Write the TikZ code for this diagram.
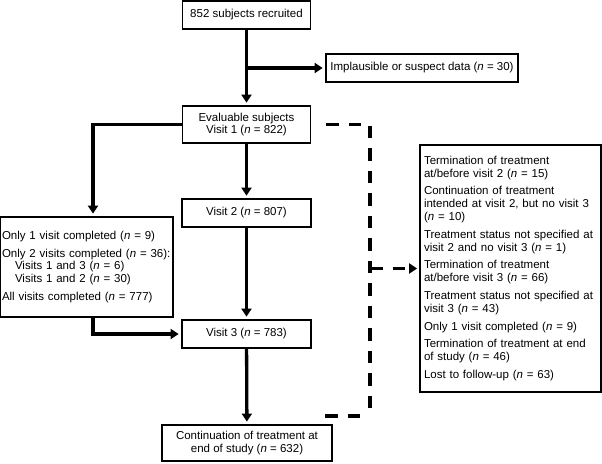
\documentclass[tikz,border=0pt]{standalone}
\usepackage{fontspec}
\setmainfont{Liberation Sans}
\usetikzlibrary{arrows.meta}

\begin{document}
\begin{tikzpicture}[x = 1pt, y = -1pt,
   font = \fontsize{11.5pt}{12.8pt}\selectfont,
   box/.style = {draw, line width = 1.8pt, inner sep = 0pt, align = center},
   flow/.style = {line width = 3.3pt, shorten > = 2.5pt, -{Triangle[length = 8pt, width = 10pt]}},
   dropline/.style = {line width = 3.3pt, dash pattern = on 12.5pt off 10pt}]
   \useasboundingbox (0,0) rectangle (602,463);
   \node[box, minimum width = 128pt, minimum height = 28pt] (recruited) at (246.5,15) {852 subjects recruited};
   \node[box, minimum width = 192pt, minimum height = 28pt] (implausible) at (422,68) {Implausible or suspect data (\textit{n} = 30)};
   \node[box, minimum width = 128pt, minimum height = 37pt] (evaluable) at (246.5,124.5) {Evaluable subjects\\ Visit 1 (\textit{n} = 822)};
   \node[box, minimum width = 129pt, minimum height = 28pt] (visit2) at (246.5,213) {Visit 2 (\textit{n} = 807)};
   \node[box, minimum width = 129pt, minimum height = 28pt] (visit3) at (246.5,334) {Visit 3 (\textit{n} = 783)};
   \node[box, minimum width = 170pt, minimum height = 36pt] (continuation) at (247,443) {Continuation of treatment at\\ end of study (\textit{n} = 632)};
   \node[box, align = left, text width = 169pt, inner xsep = 2pt, minimum height = 100pt] (completed) at (86.5,267)
      {Only 1 visit completed (\textit{n} = 9)\\[5pt]
      \mbox{Only 2 visits completed (\textit{n} = 36):}\\
      \hspace*{13pt}Visits 1 and 3 (\textit{n} = 6)\\
      \hspace*{13pt}Visits 1 and 2 (\textit{n} = 30)\\[5pt]
      All visits completed (\textit{n} = 777)};
   \node[box, align = left, text width = 173pt, inner xsep = 4pt, minimum height = 247pt] (dropouts) at (510.5,268.5)
      {Termination of treatment\\ at/before visit 2 (\textit{n} = 15)\\[5pt]
      Continuation of treatment\\ intended at visit 2, but no visit 3\\ (\textit{n} = 10)\\[5pt]
      Treatment status not specified at\\ visit 2 and no visit 3 (\textit{n} = 1)\\[5pt]
      Termination of treatment\\ at/before visit 3 (\textit{n} = 66)\\[5pt]
      Treatment status not specified at\\ visit 3 (\textit{n} = 43)\\[5pt]
      Only 1 visit completed (\textit{n} = 9)\\[5pt]
      Termination of treatment at end\\ of study (\textit{n} = 46)\\[5pt]
      Lost to follow-up (\textit{n} = 63)};
   \coordinate (dtop) at (370,124.5);
   \coordinate (dbot) at (370,416);
   \coordinate (dend) at (325,416);
   \draw[flow] (recruited) -- (evaluable);
   \draw[flow] (recruited |- implausible) -- (implausible);
   \draw[flow] (evaluable) -- (visit2);
   \draw[flow] (visit2) -- (visit3);
   \draw[flow] (visit3) -- (continuation);
   \draw[flow] (evaluable.west) -| ([xshift = 6.5pt]completed.north);
   \draw[flow] ([xshift = 6.5pt]completed.south) |- (visit3.west);
   \draw[dropline] ([xshift = 15pt]evaluable.east) -- (dtop) -- (dbot);
   \draw[dropline] (dend) -- (dbot);
   \draw[dropline, shorten > = 2pt, -{Triangle[length = 8pt, width = 10pt]}] (dtop |- dropouts.west) -- (dropouts.west);
\end{tikzpicture}
\end{document}
